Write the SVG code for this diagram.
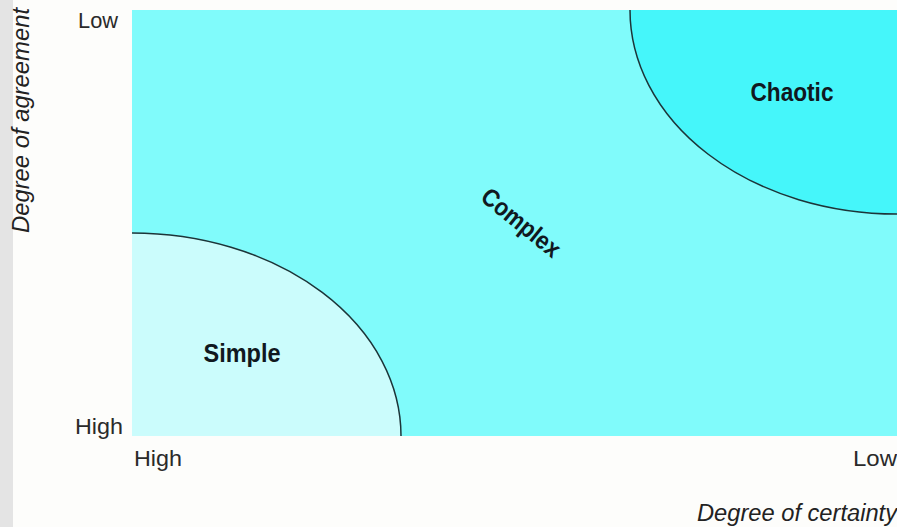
<svg xmlns="http://www.w3.org/2000/svg" width="897" height="527" viewBox="0 0 897 527">
<style>
.lab{font-family:"Liberation Sans",Arial,sans-serif;font-size:22px;fill:#2a2a2a}
.ax{font-family:"Liberation Sans",Arial,sans-serif;font-size:23px;font-style:italic;fill:#222}
.reg{font-family:"Liberation Sans",Arial,sans-serif;font-size:25px;font-weight:bold;fill:#101820}
.edge{stroke:#1c3438;stroke-width:1.5;fill:none}
</style>
<rect x="0" y="0" width="897" height="527" fill="#fdfdfb"/>
<rect x="0" y="0" width="13" height="527" fill="#e4e4e4"/>
<g id="complex">
<rect x="132" y="10" width="765" height="426" fill="#80fbfb"/>
<text class="reg" transform="translate(520,224) rotate(39)" text-anchor="middle" dominant-baseline="middle" textLength="94" lengthAdjust="spacingAndGlyphs">Complex</text>
</g>
<g id="chaotic">
<path d="M630,10 A267,204 0 0 0 897,214 L897,10 Z" fill="#45f6fa"/>
<path class="edge" d="M630,10 A267,204 0 0 0 897,214"/>
<text class="reg" x="792" y="101" text-anchor="middle" textLength="83" lengthAdjust="spacingAndGlyphs">Chaotic</text>
</g>
<g id="simple">
<path d="M132,233 A269,203 0 0 1 401,436 L132,436 Z" fill="#cbfcfc"/>
<path class="edge" d="M132,233 A269,203 0 0 1 401,436"/>
<text class="reg" x="242" y="362" text-anchor="middle" textLength="77" lengthAdjust="spacingAndGlyphs">Simple</text>
</g>
<g id="axes">
<text class="lab" x="78" y="28" textLength="40" lengthAdjust="spacingAndGlyphs">Low</text>
<text class="lab" x="75" y="434" textLength="48" lengthAdjust="spacingAndGlyphs">High</text>
<text class="lab" x="134" y="466" textLength="48" lengthAdjust="spacingAndGlyphs">High</text>
<text class="lab" x="853" y="466" textLength="44" lengthAdjust="spacingAndGlyphs">Low</text>
<text class="ax" x="697" y="521" textLength="200" lengthAdjust="spacingAndGlyphs">Degree of certainty</text>
<text class="ax" transform="translate(29,233) rotate(-90)" x="0" y="0" textLength="225" lengthAdjust="spacingAndGlyphs">Degree of agreement</text>
</g>
</svg>
